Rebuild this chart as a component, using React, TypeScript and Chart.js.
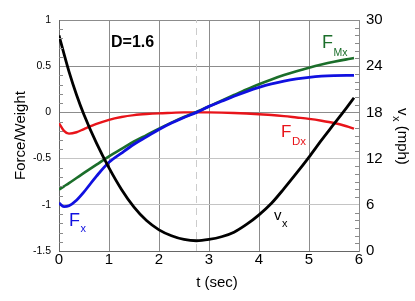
import React, { useEffect, useRef } from "react";
import { Chart, registerables } from "chart.js";

Chart.register(...registerables);

const FONT = "'Liberation Sans', Arial, Helvetica, sans-serif";

// time samples (sec)
const timeSec = [0, 0.1, 0.2, 0.35, 0.5, 0.75, 1.0, 1.25, 1.5, 1.75, 2.0, 2.25, 2.5, 2.75, 3.0, 3.25, 3.5, 3.75, 4.0, 4.25, 4.5, 4.75, 5.0, 5.25, 5.5, 5.75, 5.9];

// F_x / weight (blue)
const forceX = [-0.98, -1.02, -1.01, -0.95, -0.86, -0.69, -0.54, -0.44, -0.345, -0.265, -0.185, -0.115, -0.055, 0.0, 0.065, 0.12, 0.175, 0.225, 0.27, 0.308, 0.338, 0.362, 0.38, 0.392, 0.398, 0.4, 0.4];

// F_Mx / weight (green)
const forceMx = [-0.835, -0.8, -0.765, -0.71, -0.655, -0.565, -0.475, -0.395, -0.315, -0.245, -0.175, -0.11, -0.05, 0.005, 0.065, 0.127, 0.188, 0.248, 0.305, 0.357, 0.404, 0.446, 0.484, 0.518, 0.548, 0.574, 0.588];

// F_Dx / weight (red)
const forceDx = [-0.115, -0.2, -0.23, -0.215, -0.18, -0.125, -0.08, -0.05, -0.03, -0.018, -0.01, -0.005, 0.0, 0.0, 0.0, -0.002, -0.006, -0.012, -0.02, -0.028, -0.04, -0.055, -0.07, -0.09, -0.115, -0.15, -0.175];

// v_x (mph) (black, right axis)
const speedMph = [28.0, 25.6, 23.3, 20.3, 17.7, 14.0, 10.8, 8.0, 5.7, 3.95, 2.75, 1.98, 1.5, 1.33, 1.5, 1.85, 2.45, 3.45, 4.7, 6.2, 8.1, 10.1, 12.2, 14.4, 16.5, 18.6, 19.9];

// time of minimum speed (dashed marker)
const vMinTime = 2.75;

const xTicks = [0, 1, 2, 3, 4, 5, 6];
const leftRange = [-1.5, 1];
const rightRange = [0, 30];

const pts = (ys: number[]) => ys.map((y, i) => ({ x: timeSec[i], y }));

const overlayPlugin = {
  id: "overlay",
  afterDraw(chart: any) {
    const ctx = chart.ctx as CanvasRenderingContext2D;
    const { left, right } = chart.chartArea;
    const yS = chart.scales.y;
    const y2S = chart.scales.y2;
    ctx.save();
    // minor ticks
    ctx.strokeStyle = "#8a8a8a";
    ctx.lineWidth = 1;
    ctx.beginPath();
    for (let i = -15; i <= 10; i++) {
      if (i % 5 === 0) continue;
      const py = Math.round(yS.getPixelForValue(i / 10)) + 0.5;
      ctx.moveTo(left, py);
      ctx.lineTo(left + 4, py);
    }
    for (let m = 0; m <= 30; m++) {
      if (m % 6 === 0) continue;
      const py = Math.round(y2S.getPixelForValue(m)) + 0.5;
      ctx.moveTo(right - 4, py);
      ctx.lineTo(right, py);
    }
    ctx.stroke();

    const sub = (x: number, y: number, main: string, s: string, color: string, ms: number, ss: number, dy: number, bold = false) => {
      ctx.fillStyle = color;
      ctx.textBaseline = "alphabetic";
      ctx.textAlign = "left";
      ctx.font = `${bold ? "bold " : ""}${ms}px ${FONT}`;
      ctx.fillText(main, x, y);
      const w = ctx.measureText(main).width;
      if (s) {
        ctx.font = `${ss}px ${FONT}`;
        ctx.fillText(s, x + w + 0.5, y + dy);
      }
    };

    sub(111, 47, "D=1.6", "", "#000", 16, 0, 0, true);
    sub(322, 48, "F", "Mx", "#1b6e2a", 18, 10.5, 8);
    sub(281, 137, "F", "Dx", "#e8141a", 17, 11.5, 8);
    sub(69, 226, "F", "x", "#1010e0", 18, 11, 6);
    sub(274, 220, "v", "x", "#000", 15, 11, 7);

    // x title
    ctx.fillStyle = "#000";
    ctx.font = `15px ${FONT}`;
    ctx.textAlign = "center";
    ctx.textBaseline = "alphabetic";
    ctx.fillText("t (sec)", 217, 287);

    // right title (rotated clockwise)
    ctx.translate(398, 108);
    ctx.rotate(Math.PI / 2);
    ctx.textAlign = "left";
    ctx.font = `15px ${FONT}`;
    ctx.fillText("v", 0, 0);
    let w = ctx.measureText("v").width;
    ctx.font = `11px ${FONT}`;
    ctx.fillText("x", w + 0.5, 5);
    w += ctx.measureText("x").width + 0.5;
    ctx.font = `15px ${FONT}`;
    ctx.fillText(" (mph)", w, 0);
    ctx.restore();
  },
};

export default function App() {
  const ref = useRef<HTMLCanvasElement | null>(null);
  useEffect(() => {
    if (!ref.current) return;
    Chart.defaults.font.family = FONT;
    const line = (label: string, ys: number[], axis: string, color: string, width: number, order: number) => ({
      label,
      data: pts(ys),
      yAxisID: axis,
      borderColor: color,
      borderWidth: width,
      pointRadius: 0,
      cubicInterpolationMode: "monotone",
      order,
    });
    const chart = new Chart(ref.current, {
      type: "line",
      data: {
        datasets: [
          line("vx", speedMph, "y2", "#000", 2.8, 1),
          line("Fx", forceX, "y", "#1010e0", 2.8, 2),
          line("FMx", forceMx, "y", "#1b6e2a", 2.6, 3),
          line("FDx", forceDx, "y", "#e8141a", 2.4, 4),
          {
            label: "vmin",
            data: [
              { x: vMinTime, y: leftRange[0] },
              { x: vMinTime, y: leftRange[1] },
            ],
            yAxisID: "y",
            borderColor: "#cccccc",
            borderWidth: 1,
            borderDash: [7, 5],
            pointRadius: 0,
            order: 10,
          },
        ],
      },
      options: {
        animation: false,
        responsive: true,
        maintainAspectRatio: false,
        devicePixelRatio: 1,
        layout: { padding: { top: 20, left: 0, right: 0, bottom: 0 } },
        plugins: { legend: { display: false }, tooltip: { enabled: false } },
        scales: {
          x: {
            type: "linear",
            min: xTicks[0],
            max: xTicks[xTicks.length - 1],
            afterBuildTicks: (s: any) => {
              s.ticks = xTicks.map((v) => ({ value: v }));
            },
            afterFit: (s: any) => {
              s.height = 50;
            },
            ticks: { color: "#000", font: { size: 15 }, padding: 0, maxRotation: 0 },
            grid: { color: "#8c8c8c", drawTicks: false },
            border: { color: "#666" },
          },
          y: {
            position: "left",
            min: leftRange[0],
            max: leftRange[1],
            afterFit: (s: any) => {
              s.width = 59;
            },
            ticks: {
              stepSize: 0.5,
              color: "#000",
              font: { size: 10.5 },
              padding: 8,
              callback: (v: any) => String(Number(v)),
            },
            grid: {
              drawTicks: false,
              color: (c: any) => (c.tick && c.tick.value >= 0 ? "#8c8c8c" : "#c4c4c4"),
            },
            border: { color: "#666" },
            title: {
              display: true,
              text: "Force/Weight",
              color: "#000",
              font: { size: 15 },
              padding: { top: 12, bottom: 0 },
            },
          },
          y2: {
            position: "right",
            min: rightRange[0],
            max: rightRange[1],
            afterFit: (s: any) => {
              s.width = 56;
            },
            ticks: { stepSize: 6, color: "#000", font: { size: 15 }, padding: 7 },
            grid: { drawOnChartArea: false, drawTicks: false },
            border: { color: "#8c8c8c" },
          },
        },
      },
      plugins: [overlayPlugin],
    } as any);
    return () => chart.destroy();
  }, []);
  return (
    <div style={{ position: "fixed", left: 0, top: 0, width: 415, height: 301, background: "#fff" }}>
      <canvas ref={ref} />
    </div>
  );
}
